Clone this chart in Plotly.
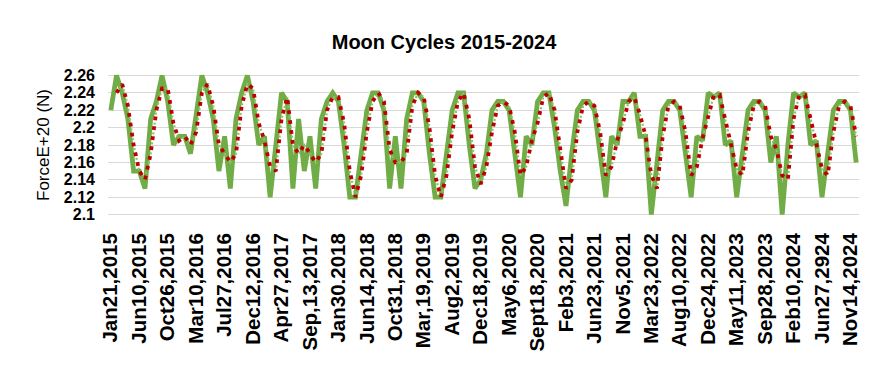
import plotly.graph_objects as go

# ---- data ----
tick_labels = ["Jan21,2015", "Jun10,2015", "Oct26,2015", "Mar10,2016", "Jul27,2016",
               "Dec12,2016", "Apr27,2017", "Sep,13,2017", "Jan30.2018", "Jun14,2018",
               "Oct31,2018", "Mar,19,2019", "Aug2,2019", "Dec18,2019", "May6,2020",
               "Sept18,2020", "Feb3,2021", "Jun23,2021", "Nov5,2021", "Mar23,2022",
               "Aug10,2022", "Dec24,2022", "May11,2023", "Sep28,2023", "Feb10,2024",
               "Jun27,2924", "Nov14,2024"]

force = [2.22, 2.26, 2.24, 2.21, 2.15, 2.15, 2.13, 2.21, 2.23, 2.26,
         2.23, 2.18, 2.19, 2.19, 2.17, 2.22, 2.26, 2.24, 2.21, 2.15,
         2.19, 2.13, 2.21, 2.24, 2.26, 2.23, 2.18, 2.19, 2.12, 2.18,
         2.24, 2.23, 2.13, 2.21, 2.15, 2.19, 2.13, 2.21, 2.23, 2.24,
         2.23, 2.18, 2.12, 2.12, 2.17, 2.22, 2.24, 2.24, 2.22, 2.13,
         2.19, 2.13, 2.21, 2.24, 2.24, 2.23, 2.17, 2.12, 2.12, 2.17,
         2.22, 2.24, 2.24, 2.18, 2.13, 2.14, 2.17, 2.22, 2.23, 2.23,
         2.22, 2.17, 2.12, 2.19, 2.18, 2.23, 2.24, 2.24, 2.20, 2.15,
         2.11, 2.17, 2.22, 2.23, 2.23, 2.22, 2.17, 2.12, 2.19, 2.18,
         2.23, 2.23, 2.24, 2.19, 2.19, 2.10, 2.16, 2.22, 2.23, 2.23,
         2.22, 2.17, 2.12, 2.19, 2.185, 2.24, 2.235, 2.24, 2.18, 2.185,
         2.12, 2.17, 2.22, 2.23, 2.23, 2.22, 2.16, 2.19, 2.10, 2.18,
         2.24, 2.235, 2.24, 2.18, 2.185, 2.12, 2.17, 2.22, 2.23, 2.23,
         2.22, 2.16]

y_ticks = [2.10, 2.12, 2.14, 2.16, 2.18, 2.20, 2.22, 2.24, 2.26]
y_tick_text = ["2.1", "2.12", "2.14", "2.16", "2.18", "2.2", "2.22", "2.24", "2.26"]

# ---- 2-period moving-average trendline (as in the source chart) ----
idx = list(range(len(force)))
moving_avg = [None] + [(force[i - 1] + force[i]) / 2 for i in range(1, len(force))]
label_pos = idx[::5][:len(tick_labels)]

fig = go.Figure()
fig.add_trace(go.Scatter(x=idx, y=force, mode="lines",
                         line=dict(color="#70AD47", width=4.8),
                         hoverinfo="skip", showlegend=False))
# faint green dots that sit between the red trendline dots
fig.add_trace(go.Scatter(x=idx, y=moving_avg, mode="lines",
                         line=dict(color="#8CC06A", width=2.2,
                                   dash="0px,5.6px,2px,2.4px"),
                         hoverinfo="skip", showlegend=False))
fig.add_trace(go.Scatter(x=idx, y=moving_avg, mode="lines",
                         line=dict(color="#C00000", width=3.8, dash="3.8px,6.2px"),
                         hoverinfo="skip", showlegend=False))

W, H = 861, 364   # page body has an 8px margin inside the 869x372 window
fig.update_layout(
    width=W, height=H,
    margin=dict(l=100, r=8, t=64.55, b=154.55),
    paper_bgcolor="white", plot_bgcolor="white",
    title=dict(text="<b>Moon Cycles 2015-2024</b>", x=436 / W, xref="container",
               xanchor="center", y=1 - 34 / H, yref="container", yanchor="middle",
               font=dict(family="Liberation Sans, Arial", size=20, color="#000000")),
    xaxis=dict(range=[-0.5, len(force) - 0.5], tickmode="array",
               tickvals=label_pos, ticktext=tick_labels, tickangle=-90,
               tickfont=dict(family="Liberation Sans, Arial", size=20.5, color="#000000",
                             weight="bold"),
               showgrid=False, zeroline=False, showline=False, ticks="",
               ticklabelstandoff=11),
    yaxis=dict(range=[2.0972, 2.2628], tickmode="array", tickvals=y_ticks,
               ticktext=y_tick_text,
               tickfont=dict(family="Liberation Sans, Arial", size=16, color="#000000",
                             weight="bold"),
               showgrid=True, gridcolor="#D9D9D9", gridwidth=1.2, zeroline=False,
               showline=False, ticks="", ticklabelstandoff=12,
               title=dict(text="ForceE+20 (N)", standoff=9,
                          font=dict(family="Liberation Sans, Arial", size=17,
                                    color="#000000"))),
)

fig.write_html("out.html")
